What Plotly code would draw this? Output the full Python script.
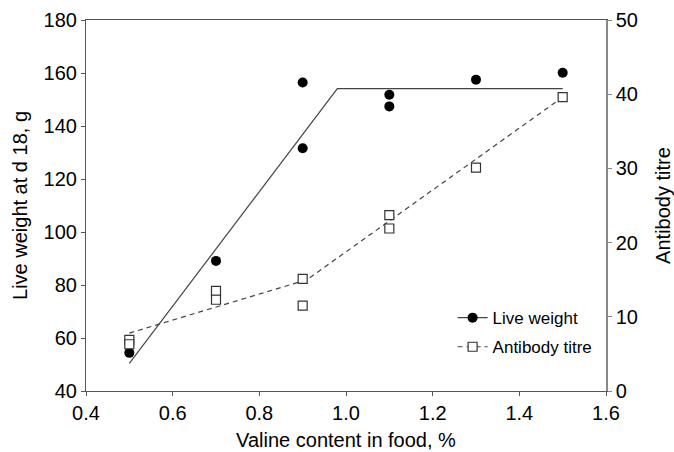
import plotly.graph_objects as go

# Observed live weight (g) at d 18 by dietary valine level (%)
valine_lw = [0.5, 0.7, 0.9, 0.9, 1.1, 1.1, 1.3, 1.5]
live_weight = [54.4, 89.1, 156.4, 131.6, 151.8, 147.4, 157.5, 160.1]

# Observed antibody titre by dietary valine level (%)
valine_ab = [0.5, 0.5, 0.7, 0.7, 0.9, 0.9, 1.1, 1.1, 1.3, 1.5]
antibody = [6.9, 6.3, 13.5, 12.3, 15.1, 11.5, 23.7, 21.9, 30.1, 39.6]

# Broken-line fits (knots)
lw_fit_x = [0.5, 0.98, 1.5]
lw_fit_y = [50.4, 154.1, 154.1]
ab_fit_x = [0.5, 0.91, 1.5]
ab_fit_y = [7.8, 15.0, 39.6]

FONT = "Liberation Sans, Arial, sans-serif"
LINE_C = "#444444"
AX_C = "#555555"
AX2_C = "#888888"
FS = 20

fig = go.Figure()

# fitted lines
fig.add_trace(go.Scatter(x=lw_fit_x, y=lw_fit_y, mode="lines",
                         line=dict(color=LINE_C, width=1.2),
                         showlegend=False, yaxis="y"))
fig.add_trace(go.Scatter(x=ab_fit_x, y=ab_fit_y, mode="lines",
                         line=dict(color=LINE_C, width=1.2, dash="5px,4px"),
                         showlegend=False, yaxis="y2"))

# observations
fig.add_trace(go.Scatter(x=valine_lw, y=live_weight, mode="markers",
                         marker=dict(symbol="circle", size=10, color="black"),
                         showlegend=False, yaxis="y"))
fig.add_trace(go.Scatter(x=valine_ab, y=antibody, mode="markers",
                         marker=dict(symbol="square", size=9, color="white",
                                     line=dict(color="#333333", width=1.2)),
                         showlegend=False, yaxis="y2"))

# legend entries combining line and marker styles
fig.add_trace(go.Scatter(x=[None], y=[None], mode="lines+markers",
                         name="Live weight", legendgroup="lw",
                         line=dict(color=LINE_C, width=1.2),
                         marker=dict(symbol="circle", size=10, color="black")))
fig.add_trace(go.Scatter(x=[None], y=[None], mode="lines+markers",
                         name="Antibody titre", legendgroup="ab",
                         line=dict(color=LINE_C, width=1.2, dash="5px,4px"),
                         marker=dict(symbol="square", size=9, color="white",
                                     line=dict(color="#333333", width=1.2))))

fig.update_layout(
    width=674, height=452,
    margin=dict(l=86, r=68, t=20, b=61, autoexpand=False),
    paper_bgcolor="white", plot_bgcolor="white",
    font=dict(family=FONT, size=FS, color="black"),
    xaxis=dict(
        range=[0.4, 1.6], tickvals=[0.4, 0.6, 0.8, 1.0, 1.2, 1.4, 1.6],
        ticktext=["0.4", "0.6", "0.8", "1.0", "1.2", "1.4", "1.6"],
        showgrid=False, zeroline=False,
        showline=True, linecolor=AX_C, linewidth=1.2, mirror=True,
        ticks="outside", ticklen=4, tickcolor=AX_C,
        title=dict(text="Valine content in food, %", standoff=9,
                   font=dict(size=FS)),
        tickfont=dict(size=FS),
    ),
    yaxis=dict(
        range=[40, 180], tickvals=[40, 60, 80, 100, 120, 140, 160, 180],
        showgrid=False, zeroline=False,
        showline=True, linecolor=AX_C, linewidth=1.2,
        ticks="outside", ticklen=4, tickcolor=AX_C,
        title=dict(text="Live weight at d 18, g", standoff=10,
                   font=dict(size=FS)),
        tickfont=dict(size=FS),
    ),
    yaxis2=dict(
        range=[0, 50], tickvals=[0, 10, 20, 30, 40, 50],
        overlaying="y", side="right",
        showgrid=False, zeroline=False,
        showline=True, linecolor=AX2_C, linewidth=1.5,
        ticks="outside", ticklen=4, tickcolor=AX2_C,
        title=dict(text="Antibody titre", standoff=19, font=dict(size=FS)),
        tickfont=dict(size=FS),
    ),
    legend=dict(
        x=0.705, y=0.245, xanchor="left", yanchor="top",
        bgcolor="rgba(0,0,0,0)", font=dict(size=17),
        tracegroupgap=4, itemsizing="trace",
    ),
)

fig.write_html("out.html")
